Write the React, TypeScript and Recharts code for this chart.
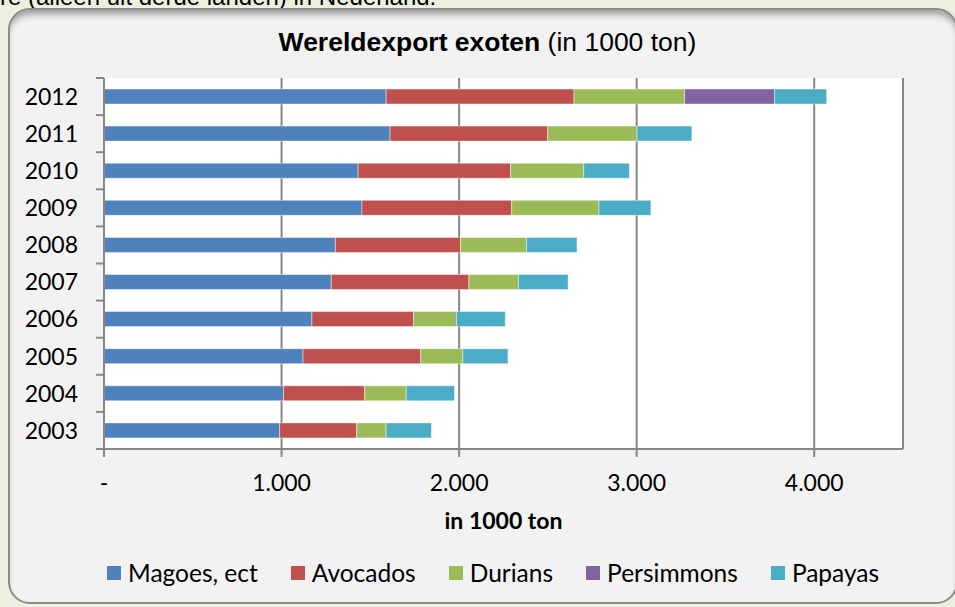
import { BarChart, Bar, XAxis, YAxis, CartesianGrid } from "recharts";

// Wereldexport exoten, in 1000 ton
const YEARS = ["2012", "2011", "2010", "2009", "2008", "2007", "2006", "2005", "2004", "2003"];
const MAGOES = [1589, 1611, 1431, 1453, 1303, 1280, 1171, 1121, 1011, 989];
const AVOCADOS = [1058, 888, 859, 843, 705, 775, 572, 663, 457, 434];
const DURIANS = [623, 503, 412, 492, 372, 279, 242, 237, 234, 166];
const PERSIMMONS = [507, 0, 0, 0, 0, 0, 0, 0, 0, 0];
const PAPAYAS = [293, 309, 257, 292, 284, 280, 275, 254, 272, 255];

const X_TICKS = [0, 1000, 2000, 3000, 4000];

const SERIES = [
  { key: "magoes", name: "Magoes, ect", values: MAGOES, color: "#4f81bd" },
  { key: "avocados", name: "Avocados", values: AVOCADOS, color: "#c0504d" },
  { key: "durians", name: "Durians", values: DURIANS, color: "#9bbb59" },
  { key: "persimmons", name: "Persimmons", values: PERSIMMONS, color: "#8064a2" },
  { key: "papayas", name: "Papayas", values: PAPAYAS, color: "#4bacc6" },
];

const data = YEARS.map((year, i) => {
  const row: any = { year };
  SERIES.forEach((s) => {
    row[s.key] = s.values[i];
  });
  return row;
});

const W = 955;
const H = 607;
const PLOT_LEFT = 104;
const PLOT_TOP = 78;
const PLOT_BOTTOM = 449;
const BAND = (PLOT_BOTTOM - PLOT_TOP) / YEARS.length;
const AXIS_COLOR = "#878787";
const FONT = "Lato, 'Open Sans', sans-serif";

const formatTon = (v: number) =>
  v === 0 ? "-" : String(v).replace(/\B(?=(\d{3})+(?!\d))/g, ".");

// year labels plus Excel-style tick marks between the categories
function YearTick(props: any) {
  const { y, payload, index } = props;
  return (
    <g>
      <text
        x={PLOT_LEFT - 26}
        y={y}
        dy="0.36em"
        textAnchor="end"
        fill="#000"
        fontSize={23}
        fontFamily={FONT}
      >
        {payload.value}
      </text>
      <line
        x1={PLOT_LEFT - 8}
        x2={PLOT_LEFT}
        y1={y - BAND / 2}
        y2={y - BAND / 2}
        stroke={AXIS_COLOR}
        strokeWidth={2}
      />
      {index === YEARS.length - 1 && (
        <line
          x1={PLOT_LEFT - 8}
          x2={PLOT_LEFT}
          y1={y + BAND / 2}
          y2={y + BAND / 2}
          stroke={AXIS_COLOR}
          strokeWidth={2}
        />
      )}
    </g>
  );
}

export default function App() {
  return (
    <div
      style={{
        position: "absolute",
        left: 0,
        top: 0,
        width: W,
        height: H,
        overflow: "hidden",
        background: "#ebf1de",
      }}
    >
      <div
        style={{
          position: "absolute",
          left: 0,
          top: -17,
          fontFamily: "'Liberation Sans', Arial, sans-serif",
          fontSize: 24,
          whiteSpace: "nowrap",
          color: "#000",
        }}
      >
        re (alleen uit derde landen) in Nederland.
      </div>

      <div
        style={{
          position: "absolute",
          left: 8,
          top: 8,
          width: 950,
          height: 596,
          boxSizing: "border-box",
          border: "2px solid #8a8a8a",
          borderRadius: 22,
          background: "#f2f2f2",
          boxShadow: "inset 0 7px 7px -3px rgba(0,0,0,0.38)",
        }}
      />

      <div
        style={{
          position: "absolute",
          left: 0,
          top: 27,
          width: 975,
          textAlign: "center",
          fontFamily: "'Liberation Sans', Arial, sans-serif",
          fontSize: 26.5,
          color: "#000",
          whiteSpace: "nowrap",
        }}
      >
        <b>Wereldexport exoten</b> (in 1000 ton)
      </div>

      <div style={{ position: "absolute", left: 0, top: 0 }}>
        <BarChart
          width={W}
          height={H}
          data={data}
          layout="vertical"
          margin={{ top: PLOT_TOP, right: W - 903, left: 0, bottom: 98 }}
        >
          <CartesianGrid
            horizontal={false}
            vertical={true}
            stroke={AXIS_COLOR}
            strokeWidth={2}
            fill="#ffffff"
          />
          <XAxis
            type="number"
            domain={[0, 4500]}
            ticks={X_TICKS}
            tickFormatter={formatTon}
            height={60}
            axisLine={{ stroke: AXIS_COLOR, strokeWidth: 2 }}
            tickLine={{ stroke: AXIS_COLOR, strokeWidth: 2 }}
            tickSize={8}
            tickMargin={18}
            tick={{ fill: "#000", fontSize: 23, fontFamily: FONT }}
            label={{
              value: "in 1000 ton",
              position: "bottom",
              offset: 4,
              fill: "#000",
              fontSize: 23,
              fontWeight: 700,
              fontFamily: FONT,
            }}
          />
          <YAxis
            type="category"
            dataKey="year"
            width={PLOT_LEFT}
            axisLine={{ stroke: AXIS_COLOR, strokeWidth: 2 }}
            tickLine={false}
            tickSize={8}
            tick={<YearTick />}
          />
          {SERIES.map((s) => (
            <Bar
              key={s.key}
              dataKey={s.key}
              name={s.name}
              stackId="a"
              fill={s.color}
              stroke="#ffffff"
              strokeOpacity={0.45}
              strokeWidth={1}
              barSize={15}
              isAnimationActive={false}
            />
          ))}
        </BarChart>
      </div>

      <div
        style={{
          position: "absolute",
          left: 107,
          top: 558,
          display: "flex",
          alignItems: "center",
          fontFamily: FONT,
          fontSize: 24.5,
          color: "#000",
          whiteSpace: "nowrap",
        }}
      >
        {SERIES.map((s) => (
          <div key={s.key} style={{ display: "flex", alignItems: "center", marginRight: 33 }}>
            <span
              style={{
                display: "inline-block",
                width: 14,
                height: 14,
                background: s.color,
                marginRight: 7,
              }}
            />
            <span>{s.name}</span>
          </div>
        ))}
      </div>
    </div>
  );
}
